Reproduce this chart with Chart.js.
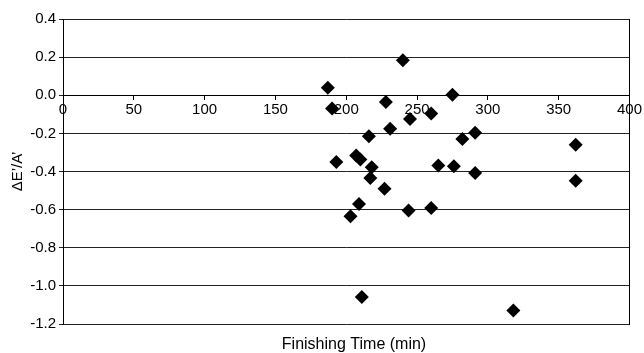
<!DOCTYPE html>
<html lang="en">
<head>
    <meta charset="UTF-8">
    <title>Finishing Time Scatter</title>
    <script src="https://cdn.jsdelivr.net/npm/chart.js"></script>
    <style>
        html, body { margin: 0; padding: 0; background: #fff; }
        #wrap { width: 644px; height: 353px; }
    </style>
</head>
<body>
<div id="wrap"><canvas id="scatterChart"></canvas></div>
<script>
    // values
    const finishingTime = [187, 190, 216, 193, 207, 210, 218, 217, 209, 203, 211,
                           240, 275, 228, 245, 260, 231, 291, 282, 362, 265, 276, 291, 227, 362, 244, 260, 318];
    const deltaRatio = [0.04, -0.07, -0.215, -0.35, -0.316, -0.337, -0.378, -0.434, -0.57, -0.635, -1.058,
                        0.184, 0.002, -0.035, -0.124, -0.096, -0.176, -0.197, -0.229, -0.26, -0.369, -0.373, -0.408, -0.49, -0.448, -0.605, -0.591, -1.129];

    const xTitle = 'Finishing Time (min)';
    const yTitle = 'ΔE’/A’';

    const points = finishingTime.map((t, i) => ({ x: t, y: deltaRatio[i] }));

    // x axis title sits at the bottom of the canvas, not with the axis at y = 0
    const bottomTitle = {
        id: 'bottomTitle',
        afterDraw(chart) {
            const ctx = chart.ctx;
            ctx.save();
            ctx.font = '16px "Liberation Sans", Arial, sans-serif';
            ctx.fillStyle = '#000';
            ctx.textAlign = 'center';
            ctx.textBaseline = 'middle';
            ctx.fillText(xTitle, 354, 345);
            ctx.restore();
        }
    };

    Chart.defaults.font.family = '"Liberation Sans", Arial, sans-serif';
    Chart.defaults.color = '#000';

    new Chart(document.getElementById('scatterChart'), {
        type: 'scatter',
        data: {
            datasets: [{
                data: points,
                backgroundColor: '#000',
                borderWidth: 0,
                pointStyle: 'rectRot',
                pointRadius: 7,
                pointHoverRadius: 7
            }]
        },
        options: {
            responsive: true,
            maintainAspectRatio: false,
            animation: false,
            layout: { autoPadding: false, padding: { top: 19, right: 11, bottom: 29, left: 0 } },
            plugins: {
                legend: { display: false },
                tooltip: { enabled: false }
            },
            scales: {
                x: {
                    type: 'linear',
                    position: { y: 0 },
                    min: 0,
                    max: 400,
                    ticks: { stepSize: 50, font: { size: 15 }, padding: 2, maxRotation: 0 },
                    grid: { drawOnChartArea: false, drawTicks: true, tickLength: 4, color: '#000' },
                    border: { color: '#000', width: 1 }
                },
                y: {
                    min: -1.2,
                    max: 0.4,
                    ticks: {
                        stepSize: 0.2,
                        font: { size: 15 },
                        padding: 3,
                        callback: v => Number(v).toFixed(1)
                    },
                    grid: { color: '#222', tickLength: 4 },
                    border: { color: '#000', width: 1 },
                    title: { display: true, text: yTitle, font: { size: 15 }, padding: { top: 9, bottom: 0 } },
                    afterFit(scale) { scale.width = 63; }
                },
                // right-hand frame line only
                y2: {
                    position: 'right',
                    min: -1.2,
                    max: 0.4,
                    ticks: { display: false },
                    grid: { display: false, drawTicks: false },
                    border: { color: '#000', width: 1 }
                }
            }
        },
        plugins: [bottomTitle]
    });
</script>
</body>
</html>
